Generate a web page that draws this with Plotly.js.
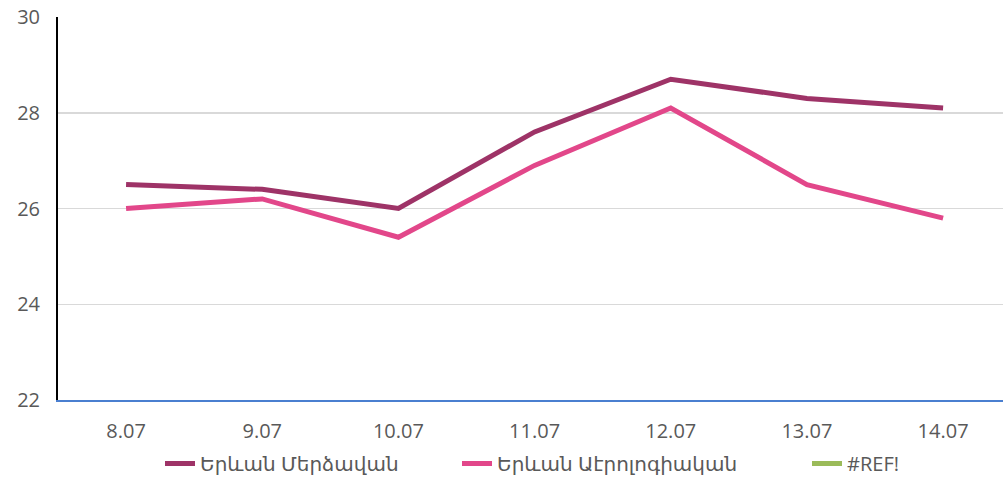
<!DOCTYPE html>
<html><head><meta charset="utf-8">
<script src="https://cdn.plot.ly/plotly-3.0.1.min.js"></script>
<style>body{margin:0;background:#fff}#c{width:1003px;height:483px}</style>
</head><body><div id="c"></div>
<script>
const categories = ["8.07","9.07","10.07","11.07","12.07","13.07","14.07"];
const merdzavan = [26.5, 26.4, 26.0, 27.6, 28.7, 28.3, 28.1];
const aerologiakan = [26.0, 26.2, 25.4, 26.9, 28.1, 26.5, 25.8];
const refSeries = [null, null, null, null, null, null, null];
const names = ["Երևան Մերձավան", "Երևան Աէրոլոգիական", "#REF!"];

const font = {family: "Open Sans, DejaVu Sans, sans-serif", color: "#595959"};
const traces = [
  {x: categories, y: merdzavan, name: names[0], type: "scatter", mode: "lines", line: {color: "#9E3367", width: 5}, legend: "legend"},
  {x: categories, y: aerologiakan, name: names[1], type: "scatter", mode: "lines", line: {color: "#E2478A", width: 5}, legend: "legend2"},
  {x: categories, y: refSeries, name: names[2], type: "scatter", mode: "lines", line: {color: "#9BBB59", width: 5}, showlegend: true, legend: "legend3"}
];
function leg(px) {
  return {orientation: "h", x: px / 1003, xanchor: "left", xref: "container", yref: "container", y: 0.0, yanchor: "bottom", font: {size: 20, color: "#595959"}, itemwidth: 30, bgcolor: "rgba(0,0,0,0)"};
}
const layout = {
  width: 1003, height: 483,
  margin: {l: 58, r: 0, t: 17, b: 83, autoexpand: false},
  paper_bgcolor: "#fff", plot_bgcolor: "#fff",
  font: Object.assign({size: 18}, font),
  showlegend: true,
  legend: leg(160), legend2: leg(457), legend3: leg(807),
  xaxis: {type: "category", range: [-0.5, 6.44], showgrid: false, zeroline: false, showline: true, linecolor: "#4A7FD0", linewidth: 1.5, ticks: "", tickfont: {size: 20, color: "#595959"}, ticklabelstandoff: 12},
  yaxis: {range: [22, 30], dtick: 2, tick0: 22, showgrid: true, gridcolor: "#D9D9D9", gridwidth: 1.5, zeroline: false, showline: true, linecolor: "#000", linewidth: 2, ticks: "", tickfont: {size: 20, color: "#595959"}, ticklabelstandoff: 12}
};
Plotly.newPlot("c", traces, layout, {displayModeBar: false, staticPlot: true});
</script></body></html>
